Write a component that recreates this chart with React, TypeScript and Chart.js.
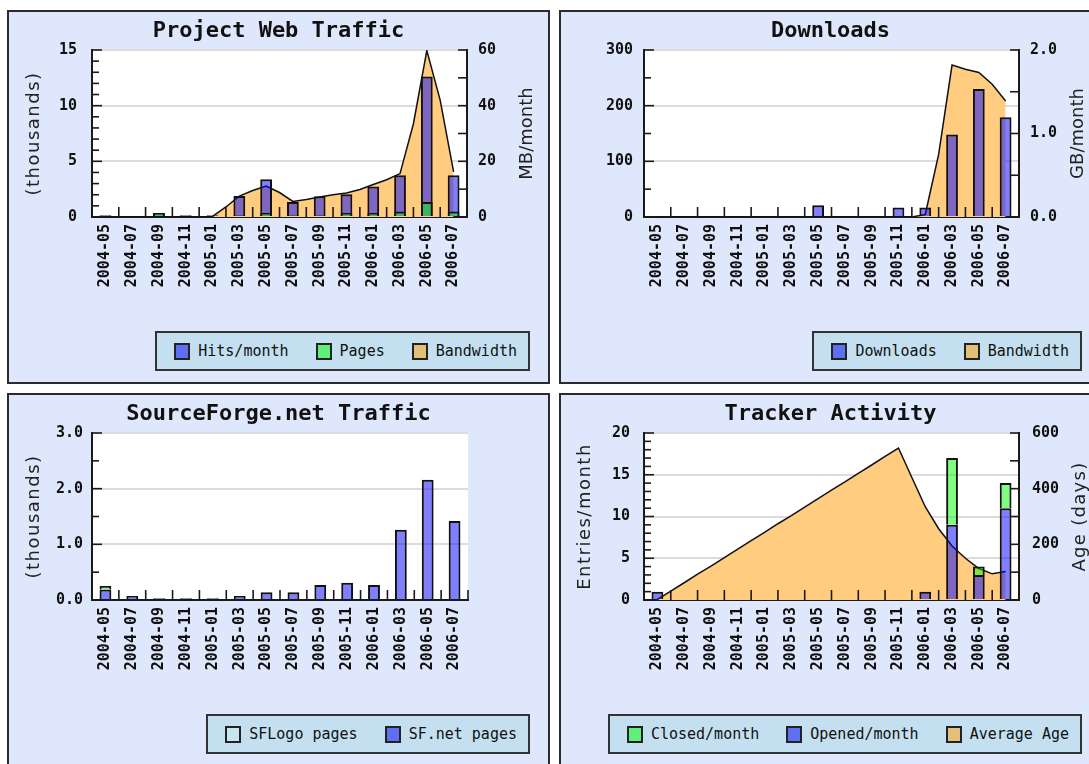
import React, { useEffect, useRef } from "react";
import { Chart, registerables } from "chart.js";

Chart.register(...registerables);

// ---------- data ----------
const categoryLabels = [
  "2004-05", "2004-07", "2004-09", "2004-11", "2005-01", "2005-03", "2005-05",
  "2005-07", "2005-09", "2005-11", "2006-01", "2006-03", "2006-05", "2006-07",
];
// month index since 2004-05 for the monthly area series
const monthIndex = [0, 1, 2, 3, 4, 5, 6, 7, 8, 9, 10, 11, 12, 13, 14, 15, 16, 17, 18, 19, 20, 21, 22, 23, 24, 25, 26];

// Project Web Traffic (thousands / MB)
const webHits = [0.15, null, 0.35, 0.15, 0.15, 1.89, 3.38, 1.35, 1.86, 2.04, 2.75, 3.74, 12.63, 3.74];
const webPages = [0.1, null, 0.35, 0.1, 0.1, 0.15, 0.35, 0.15, 0.15, 0.35, 0.35, 0.5, 1.35, 0.5];
const webBandwidth = [0, 0, 0, 0, 0, 0, 0, 0, 0.2, 3.6, 7.5, 9.5, 11.1, 8.8, 5.6, 6.3, 7.2, 8.0, 8.6, 9.9, 11.7, 13.4, 15.6, 33.5, 59.8, 41.9, 16.2];

// Downloads (count / GB)
const dlCounts = [null, null, null, null, 2, null, 21, 2, 2, 17, 17, 148, 230, 179];
const dlBandwidth = [0, 0, 0, 0, 0, 0, 0, 0, 0, 0, 0, 0, 0, 0, 0, 0, 0, 0, 0, 0, 0.03, 0.75, 1.82, 1.77, 1.73, 1.59, 1.39];

// SourceForge.net Traffic (thousands)
const sfNetPages = [0.19, 0.07, 0.03, 0.03, 0.03, 0.07, 0.14, 0.14, 0.27, 0.31, 0.27, 1.26, 2.16, 1.42];
const sfLogoPages = [0.06, null, null, null, null, null, null, null, null, null, null, null, null, null];

// Tracker Activity (entries / days)
const trkOpened = [1, null, null, null, null, null, null, null, null, null, 1, 9, 3, 11];
const trkClosed = [null, null, null, null, null, null, null, null, null, null, null, 8, 1, 3];
const trkAverageAge = [2, 32, 62, 93, 122, 152, 183, 213, 243, 274, 303, 334, 364, 395, 424, 455, 485, 516, 546, 440, 335, 256, 194, 150, 113, 94, 102];

// tick labels
const webLeftLabels = ["0", "5", "10", "15"];
const webRightLabels = ["0", "20", "40", "60"];
const dlLeftLabels = ["0", "100", "200", "300"];
const dlRightLabels = ["0.0", "1.0", "2.0"];
const sfLeftLabels = ["0.0", "1.0", "2.0", "3.0"];
const trkLeftLabels = ["0", "5", "10", "15", "20"];
const trkRightLabels = ["0", "200", "400", "600"];

// ---------- styling ----------
const BLUE = "rgba(0,0,255,0.5)";
const GREEN = "rgba(0,255,0,0.5)";
const ORANGE = "#ffcc80";
const BAR_BORDER = "#111";
const SW_BLUE = "#5f6ff2";
const SW_GREEN = "#5ff07a";
const SW_TAN = "#e2c07c";
const SW_PALE = "#c6e6ef";

const PANEL_W = 543;
const PANEL_H = 374;
const INNER_W = PANEL_W - 4;
const INNER_H = PANEL_H - 4;

const TICK_FONT = { family: '"DejaVu Sans Mono", monospace', size: 15, weight: "bold" as const };
const MONO = '"DejaVu Sans Mono", monospace';

function tickValues(min: number, max: number, step: number) {
  const out: number[] = [];
  for (let v = min; v <= max + 1e-9; v += step) out.push(Math.round(v * 1000) / 1000);
  return out;
}

function labelFinder(labels: string[]) {
  return (v: number) => {
    const l = labels.find((s) => Math.abs(parseFloat(s) - v) < 1e-6);
    return l === undefined ? "" : l;
  };
}

function valueAxis(o: {
  min: number; max: number; step: number; labels: string[]; padding: number;
  position: "left" | "right"; width: number; grid: boolean; stacked?: boolean;
}) {
  const vals = tickValues(o.min, o.max, o.step);
  const lab = labelFinder(o.labels);
  return {
    type: "linear",
    position: o.position,
    min: o.min,
    max: o.max,
    stacked: o.stacked ?? false,
    afterBuildTicks: (s: any) => { s.ticks = vals.map((v) => ({ value: v })); },
    afterFit: (s: any) => { s.width = o.width; },
    ticks: { autoSkip: false, padding: o.padding, color: "#111", font: TICK_FONT, callback: (v: any) => lab(Number(v)) },
    grid: {
      display: true,
      drawOnChartArea: o.grid,
      drawTicks: false,
      lineWidth: 2,
      color: (c: any) => (c.tick && lab(c.tick.value) !== "" ? "#dcdcdc" : "rgba(0,0,0,0)"),
    },
    border: { display: true, color: "#1a1a1a", width: 2 },
  };
}

// empty right-hand spacer axis (keeps the plot and title placement of the other panels)
const spacerAxis = {
  type: "linear", position: "right", min: 0, max: 1,
  afterFit: (s: any) => { s.width = 80; },
  ticks: { display: false },
  grid: { display: false, drawTicks: false },
  border: { display: false },
};

function catAxis(stacked: boolean) {
  return {
    type: "category",
    offset: true,
    stacked,
    afterFit: (s: any) => { s.height = 165; },
    ticks: { autoSkip: false, maxRotation: 90, minRotation: 90, padding: 7, color: "#111", font: TICK_FONT },
    grid: { display: false, drawTicks: false },
    border: { display: true, color: "#1a1a1a", width: 2 },
  };
}

// hidden monthly axis: category i spans months 2i-1 .. 2i+1
const monthAxis = {
  type: "linear", display: false, min: -1, max: 27, offset: false, grace: 0, bounds: "data",
  grid: { offset: false }, ticks: { includeBounds: true },
};

type AxisTitle = { text: string; x: number; spacing: number };

function makePlugins(spec: { leftLabels: string[]; leftTitle?: AxisTitle; rightTitle?: AxisTitle }) {
  const isLeftMajor = labelFinder(spec.leftLabels);
  return [
    {
      id: "alignMonthAxis",
      afterLayout(chart: any) {
        const xm = chart.scales.xm;
        if (!xm) return;
        const a = chart.chartArea;
        xm.left = a.left;
        xm.right = a.right;
        xm.width = a.right - a.left;
        xm.min = -1;
        xm.max = 27;
        xm.configure();
      },
    },
    {
      id: "plotBg",
      beforeDraw(chart: any) {
        const { ctx, chartArea: a } = chart;
        ctx.save();
        ctx.fillStyle = "#ffffff";
        ctx.fillRect(a.left, a.top, a.right - a.left, a.bottom - a.top);
        ctx.restore();
      },
    },
    {
      id: "innerTicks",
      afterDatasetsDraw(chart: any) {
        const { ctx, chartArea: a } = chart;
        ctx.save();
        ctx.strokeStyle = "#1a1a1a";
        ctx.lineWidth = 1.6;
        const line = (x1: number, y1: number, x2: number, y2: number) => {
          ctx.beginPath(); ctx.moveTo(x1, y1); ctx.lineTo(x2, y2); ctx.stroke();
        };
        const y = chart.scales.y;
        for (const t of y.ticks) {
          const py = y.getPixelForValue(t.value);
          line(a.left, py, a.left + (isLeftMajor(t.value) !== "" ? 10 : 7), py);
        }
        const y2 = chart.scales.y2;
        if (y2) {
          for (const t of y2.ticks) {
            const py = y2.getPixelForValue(t.value);
            line(a.right, py, a.right - 9, py);
          }
        }
        const n = chart.scales.x.ticks.length;
        const w = (a.right - a.left) / n;
        for (let i = 1; i <= n; i++) {
          const px = a.left + i * w;
          line(px, a.bottom, px, a.bottom - 10);
        }
        ctx.restore();
      },
    },
    {
      id: "axisTitles",
      afterDraw(chart: any) {
        const { ctx, chartArea: a } = chart;
        const cy = (a.top + a.bottom) / 2;
        const items = [spec.leftTitle, spec.rightTitle].filter(Boolean) as AxisTitle[];
        for (const t of items) {
          ctx.save();
          ctx.translate(t.x, cy);
          ctx.rotate(-Math.PI / 2);
          ctx.font = '18px "DejaVu Sans", sans-serif';
          (ctx as any).letterSpacing = t.spacing + "px";
          ctx.fillStyle = "#222";
          ctx.textAlign = "center";
          ctx.textBaseline = "middle";
          ctx.fillText(t.text, 0, 0);
          ctx.restore();
        }
      },
    },
  ];
}

function baseOptions(title: string, scales: any) {
  return {
    responsive: false,
    animation: false,
    devicePixelRatio: 1,
    events: [],
    layout: { padding: { left: 0, right: 0, top: 0, bottom: 0 } },
    plugins: {
      legend: { display: false },
      tooltip: { enabled: false },
      title: {
        display: true,
        text: title,
        color: "#111",
        font: { family: MONO, size: 22, weight: "bold" },
        padding: { top: 6, bottom: 5.6 },
      },
    },
    scales,
  };
}

const barCommon = {
  type: "bar", grouped: false, borderColor: BAR_BORDER, borderWidth: 2,
  barPercentage: 0.44, categoryPercentage: 1, xAxisID: "x", yAxisID: "y",
};
const areaCommon = {
  type: "line", xAxisID: "xm", yAxisID: "y2", fill: "origin", backgroundColor: ORANGE,
  borderColor: "#111", borderWidth: 1.5, pointRadius: 0, tension: 0,
};

function buildWeb(): any {
  return {
    type: "bar",
    data: {
      labels: categoryLabels,
      datasets: [
        { ...areaCommon, label: "Bandwidth", data: monthIndex.map((m, i) => ({ x: m, y: webBandwidth[i] })), order: 3 },
        { ...barCommon, label: "Hits/month", data: webHits, backgroundColor: BLUE, order: 2 },
        { ...barCommon, label: "Pages", data: webPages, backgroundColor: GREEN, order: 1 },
      ],
    },
    options: baseOptions("Project Web Traffic", {
      x: catAxis(true),
      xm: monthAxis,
      y: valueAxis({ min: 0, max: 15, step: 1, labels: webLeftLabels, padding: 15, position: "left", width: 83, grid: true }),
      y2: valueAxis({ min: 0, max: 60, step: 10, labels: webRightLabels, padding: 11, position: "right", width: 81, grid: false }),
    }),
    plugins: makePlugins({
      leftLabels: webLeftLabels,
      leftTitle: { text: "(thousands)", x: 25, spacing: 1.5 },
      rightTitle: { text: "MB/month", x: 518, spacing: 0 },
    }),
  };
}

function buildDownloads(): any {
  return {
    type: "bar",
    data: {
      labels: categoryLabels,
      datasets: [
        { ...areaCommon, label: "Bandwidth", data: monthIndex.map((m, i) => ({ x: m, y: dlBandwidth[i] })), order: 2 },
        { ...barCommon, label: "Downloads", data: dlCounts, backgroundColor: BLUE, order: 1 },
      ],
    },
    options: baseOptions("Downloads", {
      x: catAxis(true),
      xm: monthAxis,
      y: valueAxis({ min: 0, max: 300, step: 50, labels: dlLeftLabels, padding: 11, position: "left", width: 83, grid: true }),
      y2: valueAxis({ min: 0, max: 2, step: 0.5, labels: dlRightLabels, padding: 11, position: "right", width: 81, grid: false }),
    }),
    plugins: makePlugins({ leftLabels: dlLeftLabels, rightTitle: { text: "GB/month", x: 517, spacing: 0 } }),
  };
}

function buildSF(): any {
  return {
    type: "bar",
    data: {
      labels: categoryLabels,
      datasets: [
        { ...barCommon, label: "SF.net pages", data: sfNetPages, backgroundColor: BLUE },
        { ...barCommon, label: "SFLogo pages", data: sfLogoPages, backgroundColor: GREEN },
      ],
    },
    options: baseOptions("SourceForge.net Traffic", {
      x: catAxis(true),
      y: valueAxis({ min: 0, max: 3, step: 0.5, labels: sfLeftLabels, padding: 9, position: "left", width: 83, grid: true, stacked: true }),
      yr: spacerAxis,
    }),
    plugins: makePlugins({ leftLabels: sfLeftLabels, leftTitle: { text: "(thousands)", x: 25, spacing: 1.5 } }),
  };
}

function buildTracker(): any {
  return {
    type: "bar",
    data: {
      labels: categoryLabels,
      datasets: [
        { ...areaCommon, label: "Average Age", data: monthIndex.map((m, i) => ({ x: m, y: trkAverageAge[i] })), order: 3 },
        { ...barCommon, label: "Opened/month", data: trkOpened, backgroundColor: BLUE, order: 1 },
        { ...barCommon, label: "Closed/month", data: trkClosed, backgroundColor: GREEN, order: 1 },
      ],
    },
    options: baseOptions("Tracker Activity", {
      x: catAxis(true),
      xm: monthAxis,
      y: valueAxis({ min: 0, max: 20, step: 1, labels: trkLeftLabels, padding: 14, position: "left", width: 83, grid: true, stacked: true }),
      y2: valueAxis({ min: 0, max: 600, step: 100, labels: trkRightLabels, padding: 13, position: "right", width: 81, grid: false }),
    }),
    plugins: makePlugins({
      leftLabels: trkLeftLabels,
      leftTitle: { text: "Entries/month", x: 24, spacing: 1.5 },
      rightTitle: { text: "Age (days)", x: 519, spacing: 1.3 },
    }),
  };
}

type LegendItem = { label: string; color: string };

function Panel(props: { left: number; top: number; build: () => any; legend: LegendItem[] }) {
  const ref = useRef<HTMLCanvasElement>(null);
  useEffect(() => {
    const chart = new Chart(ref.current as HTMLCanvasElement, props.build());
    return () => chart.destroy();
  }, []);
  return (
    <div
      style={{
        position: "absolute", left: props.left, top: props.top, width: PANEL_W, height: PANEL_H,
        boxSizing: "border-box", border: "2px solid #2b2b2b", background: "#dee7fb",
      }}
    >
      <canvas ref={ref} width={INNER_W} height={INNER_H} style={{ position: "absolute", left: 0, top: 0, width: INNER_W, height: INNER_H }} />
      <div
        style={{
          position: "absolute", right: 18, top: 319, height: 40, boxSizing: "border-box",
          border: "2px solid #333", background: "#c4e0f0", display: "flex", alignItems: "center",
          padding: "0 11px 0 17px", fontFamily: MONO, fontSize: 15, color: "#111", whiteSpace: "nowrap",
        }}
      >
        {props.legend.map((it, i) => (
          <span key={i} style={{ display: "flex", alignItems: "center", marginLeft: i ? 27 : 0 }}>
            <span
              style={{
                display: "inline-block", width: 16, height: 17, boxSizing: "border-box",
                border: "2px solid #222", background: it.color, marginRight: 8,
              }}
            />
            {it.label}
          </span>
        ))}
      </div>
    </div>
  );
}

export default function App() {
  return (
    <div style={{ position: "absolute", left: 0, top: 0, width: 1089, height: 764, overflow: "hidden", background: "#fff" }}>
      <Panel left={7} top={10} build={buildWeb} legend={[
        { label: "Hits/month", color: SW_BLUE }, { label: "Pages", color: SW_GREEN }, { label: "Bandwidth", color: SW_TAN },
      ]} />
      <Panel left={559} top={10} build={buildDownloads} legend={[
        { label: "Downloads", color: SW_BLUE }, { label: "Bandwidth", color: SW_TAN },
      ]} />
      <Panel left={7} top={393} build={buildSF} legend={[
        { label: "SFLogo pages", color: SW_PALE }, { label: "SF.net pages", color: SW_BLUE },
      ]} />
      <Panel left={559} top={393} build={buildTracker} legend={[
        { label: "Closed/month", color: SW_GREEN }, { label: "Opened/month", color: SW_BLUE }, { label: "Average Age", color: SW_TAN },
      ]} />
    </div>
  );
}
